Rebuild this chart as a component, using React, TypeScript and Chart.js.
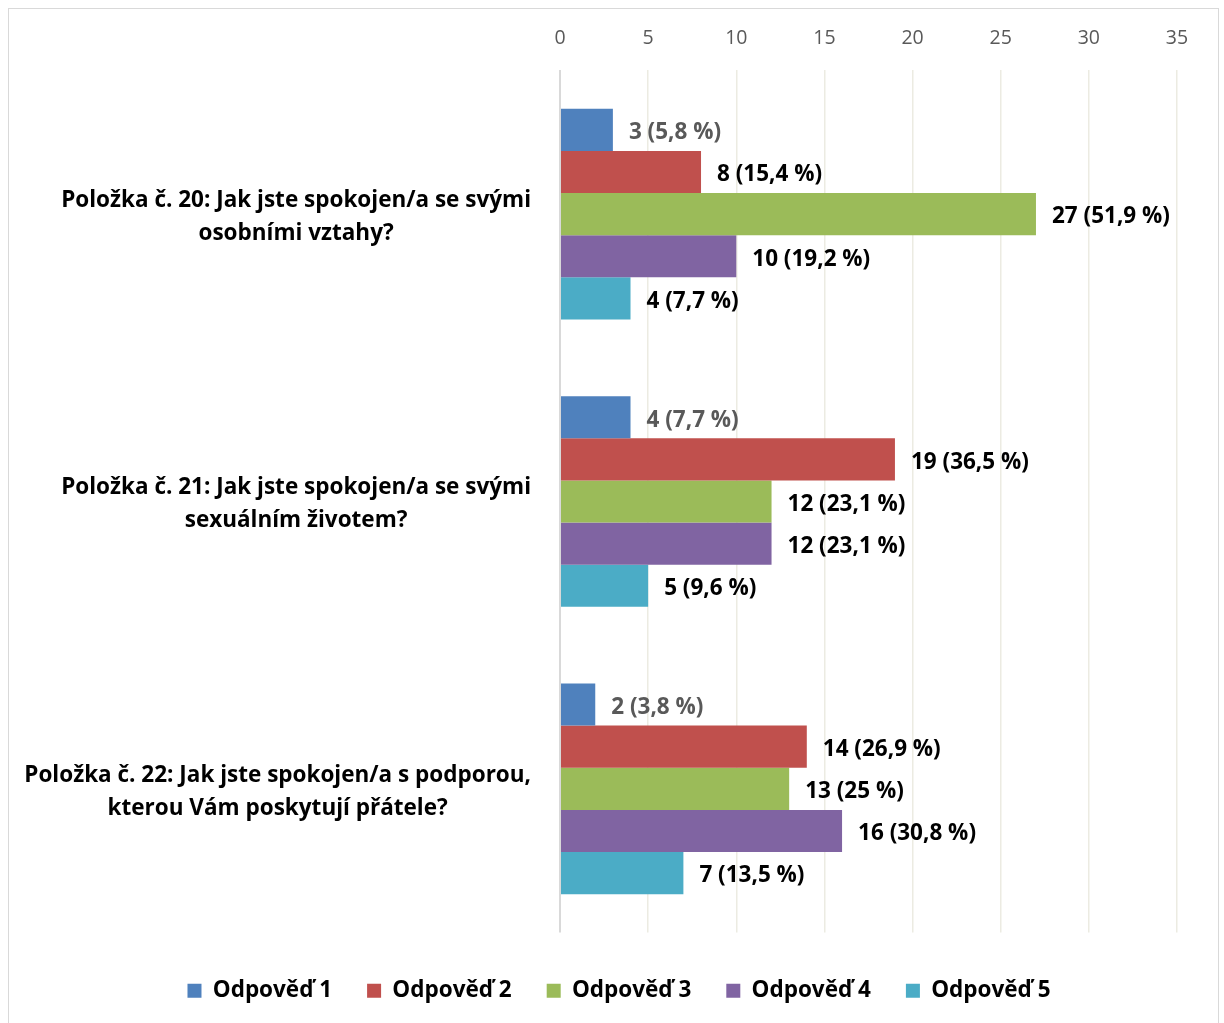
import React, { useEffect, useRef } from 'react';
import { Chart, registerables } from 'chart.js';

Chart.register(...registerables);

// ---- data ----
const categories: string[][] = [
  ['Položka č. 20: Jak jste spokojen/a se svými', 'osobními vztahy?'],
  ['Položka č. 21: Jak jste spokojen/a se svými', 'sexuálním životem?'],
  ['Položka č. 22: Jak jste spokojen/a s podporou,', 'kterou Vám poskytují přátele?'],
];
const seriesNames = ['Odpověď 1', 'Odpověď 2', 'Odpověď 3', 'Odpověď 4', 'Odpověď 5'];
const answer1 = [3, 4, 2];
const answer2 = [8, 19, 14];
const answer3 = [27, 12, 13];
const answer4 = [10, 12, 16];
const answer5 = [4, 5, 7];
const answer1Pct = ['5,8', '7,7', '3,8'];
const answer2Pct = ['15,4', '36,5', '26,9'];
const answer3Pct = ['51,9', '23,1', '25'];
const answer4Pct = ['19,2', '23,1', '30,8'];
const answer5Pct = ['7,7', '9,6', '13,5'];
const xTickValues = [0, 5, 10, 15, 20, 25, 30, 35];

const seriesValues = [answer1, answer2, answer3, answer4, answer5];
const seriesPct = [answer1Pct, answer2Pct, answer3Pct, answer4Pct, answer5Pct];
const seriesColors = ['#4f81bd', '#c0504d', '#9bbb59', '#8064a2', '#4bacc6'];
const labelColors = ['#595959', '#000000', '#000000', '#000000', '#000000'];

const FONT = '"Open Sans", sans-serif';
const LABEL_SIZE = 22.5;

const valueLabelPlugin = {
  id: 'valueLabels',
  afterDatasetsDraw(chart: any) {
    const ctx = chart.ctx;
    ctx.save();
    ctx.font = `bold ${LABEL_SIZE}px ${FONT}`;
    ctx.textBaseline = 'middle';
    ctx.textAlign = 'left';
    chart.data.datasets.forEach((ds: any, i: number) => {
      const meta = chart.getDatasetMeta(i);
      meta.data.forEach((bar: any, j: number) => {
        ctx.fillStyle = labelColors[i];
        ctx.fillText(`${ds.data[j]} (${seriesPct[i][j]} %)`, bar.x + 16, bar.y + 3);
      });
    });
    ctx.restore();
  },
};

const categoryLabelPlugin = {
  id: 'categoryLabels',
  afterDraw(chart: any) {
    const ctx = chart.ctx;
    const yScale = chart.scales.y;
    const right = chart.chartArea.left - 29;
    ctx.save();
    ctx.font = `bold ${LABEL_SIZE}px ${FONT}`;
    ctx.textBaseline = 'middle';
    ctx.textAlign = 'center';
    ctx.fillStyle = '#000000';
    (chart.data.labels as string[][]).forEach((lines, i) => {
      const cy = yScale.getPixelForValue(i) + 3;
      const w = Math.max(...lines.map((l) => ctx.measureText(l).width));
      const cx = right - w / 2;
      lines.forEach((l, k) => {
        ctx.fillText(l, cx, cy + (k - (lines.length - 1) / 2) * 33);
      });
    });
    ctx.restore();
  },
};

export default function App() {
  const ref = useRef<HTMLCanvasElement | null>(null);

  useEffect(() => {
    if (!ref.current) return;
    const chart = new Chart(ref.current, {
      type: 'bar',
      data: {
        labels: categories as any,
        datasets: seriesNames.map((name, i) => ({
          label: name,
          data: seriesValues[i],
          backgroundColor: seriesColors[i],
          borderWidth: 0,
          barPercentage: 1,
          categoryPercentage: 0.733,
        })),
      },
      options: {
        indexAxis: 'y',
        animation: false,
        responsive: false,
        maintainAspectRatio: false,
        layout: { padding: { top: 3, left: 11, right: 0, bottom: 11 } },
        scales: {
          x: {
            position: 'top',
            min: 0,
            max: 35,
            afterBuildTicks: (scale: any) => {
              scale.ticks = xTickValues.map((v) => ({ value: v }));
            },
            ticks: {
              color: '#595959',
              font: { family: FONT, size: 19.5 },
              padding: 20,
            },
            grid: {
              drawTicks: false,
              color: (c: any) => (c.tick && c.tick.value === 0 ? '#d9d9d9' : '#ecebe2'),
              lineWidth: (c: any) => (c.tick && c.tick.value === 0 ? 2 : 1.5),
            },
            border: { display: false },
          },
          y: {
            type: 'category',
            position: 'left',
            ticks: { display: false },
            grid: { display: false },
            border: { display: false },
            afterFit: (scale: any) => {
              scale.width = 540;
            },
          },
          y2: {
            type: 'linear',
            position: 'right',
            display: true,
            ticks: { display: false },
            grid: { display: false },
            border: { display: false },
            afterFit: (scale: any) => {
              scale.width = 41;
            },
          },
        },
        plugins: {
          legend: {
            position: 'bottom',
            title: { display: true, text: '', font: { size: 5 }, padding: { top: 6, bottom: 0 } },
            labels: {
              boxWidth: 14,
              boxHeight: 14,
              padding: 35,
              color: '#000000',
              font: { family: FONT, size: LABEL_SIZE, weight: 'bold' },
            },
          },
          tooltip: { enabled: false },
        },
      },
      plugins: [valueLabelPlugin, categoryLabelPlugin],
    } as any);
    return () => chart.destroy();
  }, []);

  return (
    <>
      <div
        style={{
          position: 'fixed',
          left: 8,
          top: 8,
          width: 1211,
          height: 1030,
          border: '1px solid #d9d9d9',
          boxSizing: 'border-box',
          background: '#ffffff',
        }}
      />
      <canvas
        ref={ref}
        width={1209}
        height={1019}
        style={{ display: 'block', position: 'fixed', left: 9, top: 4 }}
      />
    </>
  );
}
